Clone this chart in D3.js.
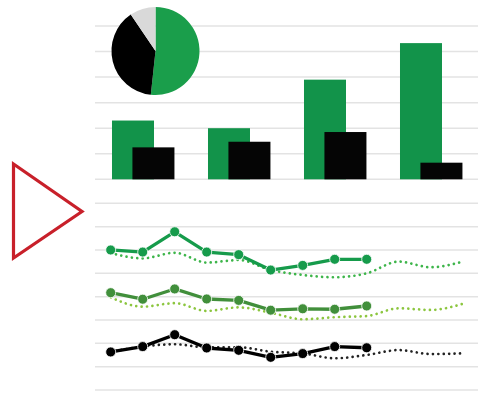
<!DOCTYPE html>
<html><head><meta charset="utf-8">
<script src="https://cdn.jsdelivr.net/npm/d3@7"></script>
<style>body{margin:0;background:#fff}svg{display:block}</style>
</head><body>
<svg id="c" width="480" height="412"></svg>
<script>
const barCategories = ["A","B","C","D"];
const barGreen = [23, 20, 39, 53.3];
const barBlack = [12.5, 14.7, 18.5, 6.5];
const barTicks = [0,10,20,30,40,50,60];

const pieLabels = ["green","black","gray"];
const pieValues = [51.7, 38.8, 9.5];

const lineTicks = [0,1,2,3,4,5,6,7,8];
const line1 = [6.0,5.91,6.78,5.91,5.8,5.14,5.34,5.6,5.6];
const dot1  = [5.87,5.64,5.88,5.46,5.57,5.14,4.93,4.83,5.0,5.5,5.26,5.5];
const line2 = [4.17,3.89,4.33,3.9,3.84,3.42,3.48,3.46,3.6];
const dot2  = [3.97,3.57,3.72,3.39,3.54,3.31,3.03,3.12,3.17,3.5,3.43,3.69];
const line3 = [1.63,1.86,2.37,1.8,1.7,1.4,1.56,1.86,1.81];
const dot3  = [1.63,1.86,1.96,1.83,1.83,1.64,1.57,1.36,1.5,1.71,1.54,1.57];

const svg = d3.select("#c");
const gridColor = "#e3e3e3";

// top bar chart
const xb = d3.scaleBand().domain(barCategories).range([95,479]);
const yb = d3.scaleLinear().domain([0,60]).range([179.3,26]);
svg.append("g").selectAll("line").data(barTicks).join("line")
  .attr("x1",95).attr("x2",478).attr("y1",d=>yb(d)).attr("y2",d=>yb(d))
  .attr("stroke",gridColor).attr("stroke-width",1.5);
const bw = xb.bandwidth();
svg.append("g").selectAll("rect").data(barCategories).join("rect")
  .attr("x",(d)=>xb(d)+bw*0.177).attr("width",bw*0.4375)
  .attr("y",(d,i)=>yb(barGreen[i])).attr("height",(d,i)=>yb(0)-yb(barGreen[i]))
  .attr("fill","#12934a");
svg.append("g").selectAll("rect").data(barCategories).join("rect")
  .attr("x",(d)=>xb(d)+bw*0.39).attr("width",bw*0.4375)
  .attr("y",(d,i)=>yb(barBlack[i])).attr("height",(d,i)=>yb(0)-yb(barBlack[i]))
  .attr("fill","#050505");

// pie
const pie = d3.pie().sort(null)(pieValues);
const arc = d3.arc().innerRadius(0).outerRadius(44);
const pieColors = ["#1a9e4b","#000000","#d9d9d9"];
svg.append("g").attr("transform","translate(155.5,51)")
  .selectAll("path").data(pie).join("path")
  .attr("d",arc).attr("fill",(d,i)=>pieColors[i]);

// triangle
svg.append("path")
  .attr("d", d3.line()([[13.5,164],[13.5,258],[82,211.5]]) + "Z")
  .attr("fill","none").attr("stroke","#c8202a").attr("stroke-width",3.2)
  .attr("stroke-linejoin","miter");

// bottom line chart
const xl = d3.scaleLinear().domain([0,11]).range([110.7,462.7]);
const yl = d3.scaleLinear().domain([0,8]).range([390,203.3]);
svg.append("g").selectAll("line").data(lineTicks).join("line")
  .attr("x1",95).attr("x2",478).attr("y1",d=>yl(d)).attr("y2",d=>yl(d))
  .attr("stroke",gridColor).attr("stroke-width",1.5);

const smooth = d3.line().x((d,i)=>xl(i)).y(d=>yl(d)).curve(d3.curveMonotoneX);
const straight = d3.line().x((d,i)=>xl(i)).y(d=>yl(d));

const dotted = [[dot1,"#3db54a"],[dot2,"#8cc63f"],[dot3,"#222222"]];
dotted.forEach(([data,col])=>{
  svg.append("path").attr("d",smooth(data)).attr("fill","none")
    .attr("stroke",col).attr("stroke-width",2.7)
    .attr("stroke-dasharray","0.01 5.4").attr("stroke-linecap","round");
});
const solid = [[line1,"#169b4b"],[line2,"#418f3b"],[line3,"#000000"]];
solid.forEach(([data,col])=>{
  svg.append("path").attr("d",straight(data)).attr("fill","none")
    .attr("stroke",col).attr("stroke-width",3.3).attr("stroke-linejoin","round");
  svg.append("g").selectAll("circle").data(data).join("circle")
    .attr("cx",(d,i)=>xl(i)).attr("cy",d=>yl(d)).attr("r",5)
    .attr("fill",col).attr("stroke","#fff").attr("stroke-width",0.8);
});
</script>
</body></html>
